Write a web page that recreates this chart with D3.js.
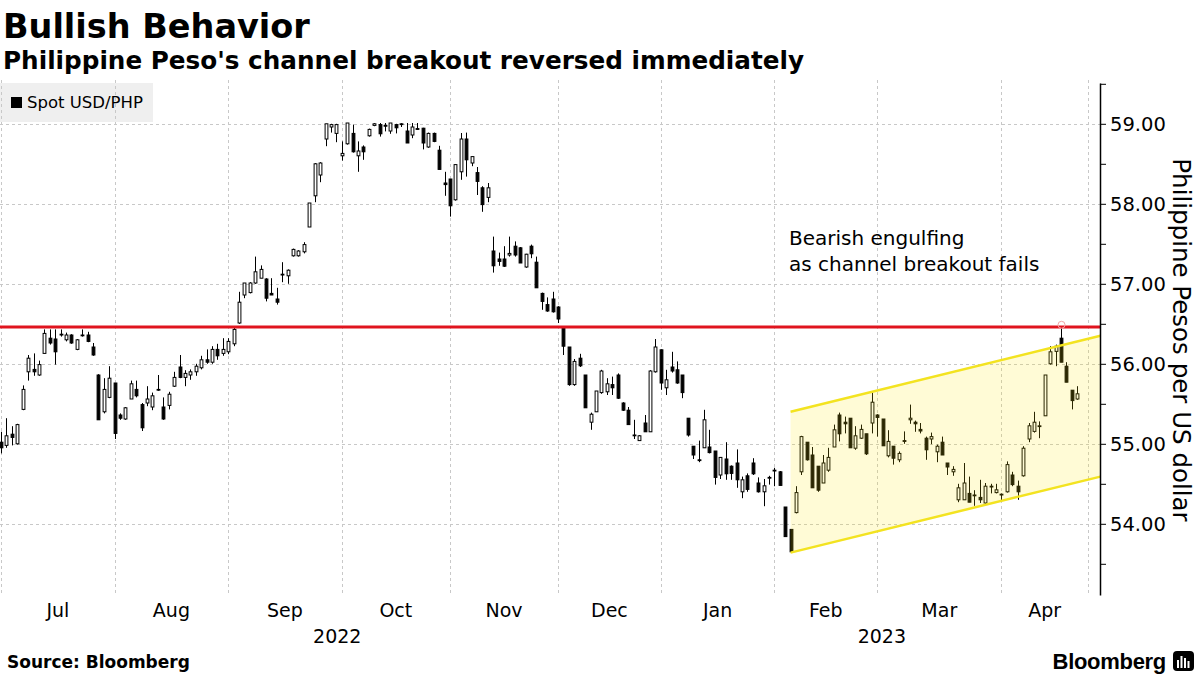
<!DOCTYPE html>
<html>
<head>
<meta charset="utf-8">
<title>Bullish Behavior</title>
<script src="https://cdnjs.cloudflare.com/ajax/libs/d3/7.8.5/d3.min.js"></script>
<style>
  body { margin: 0; background: #fff; }
  svg { font-family: "DejaVu Sans", sans-serif; }
  svg text { fill: #000; }
</style>
</head>
<body>
<div id="chart"></div>

<script>
// trading sessions per month, as counted on the chart
var months = ["Jul", "Aug", "Sep", "Oct", "Nov", "Dec", "Jan", "Feb", "Mar", "Apr"];
var monthCounts = [21, 21, 21, 20, 20, 19, 21, 19, 23, 15];
var years = ["2022", "2023"];
var yearFirstMonth = [0, 6];

var yTicks = [54, 55, 56, 57, 58, 59];
var yMinor = [53.5, 54.5, 55.5, 56.5, 57.5, 58.5, 59.5];

// spot USD/PHP daily candles: [open, high, low, close]
var ohlc = [
  // Jul 2022
  [55.02,55.15,54.88,54.95],[54.98,55.32,54.95,55.10],[55.12,55.22,54.98,55.08],[55.00,55.25,54.99,55.24],
  [55.43,55.73,55.42,55.68],[55.90,56.11,55.79,56.07],[55.93,56.13,55.85,55.90],[55.86,56.04,55.85,55.99],
  [56.13,56.43,56.13,56.38],[56.32,56.43,56.24,56.26],[56.31,56.43,55.99,56.15],[56.37,56.43,56.34,56.36],
  [56.30,56.39,56.28,56.36],[56.36,56.37,56.25,56.26],[56.18,56.31,56.17,56.30],[56.35,56.43,56.34,56.36],
  [56.36,56.40,56.27,56.28],[56.21,56.26,56.10,56.11],[55.86,55.87,55.30,55.30],[55.40,55.82,55.38,55.68],
  [55.58,55.97,55.57,55.82],
  // Aug
  [55.76,55.76,55.06,55.13],[55.36,55.38,55.30,55.32],[55.31,55.46,55.30,55.45],[55.56,55.79,55.56,55.75],
  [55.68,55.79,55.58,55.60],[55.49,55.51,55.16,55.20],[55.51,55.72,55.47,55.56],[55.46,55.64,55.42,55.60],
  [55.67,55.86,55.66,55.68],[55.46,55.58,55.30,55.31],[55.48,55.65,55.43,55.62],[55.72,55.90,55.71,55.83],
  [55.96,56.11,55.82,55.83],[55.83,55.92,55.72,55.88],[55.86,55.93,55.80,55.90],[55.90,56.00,55.85,55.97],
  [55.95,56.10,55.93,56.05],[56.05,56.18,56.00,56.02],[56.02,56.22,56.00,56.18],[56.18,56.25,56.05,56.10],
  [56.13,56.32,56.10,56.18],
  // Sep
  [56.15,56.32,56.12,56.28],[56.25,56.45,56.22,56.43],[56.51,56.90,56.50,56.77],[56.86,57.01,56.82,57.01],
  [56.89,57.02,56.88,57.01],[57.01,57.34,57.00,57.15],[57.07,57.23,57.07,57.18],[57.06,57.07,56.78,56.82],
  [56.88,57.07,56.86,56.86],[56.81,56.95,56.74,56.77],[57.12,57.27,57.02,57.11],[57.10,57.18,57.00,57.17],
  [57.35,57.44,57.34,57.43],[57.35,57.42,57.34,57.41],[57.40,57.52,57.38,57.49],[57.71,58.01,57.71,58.01],
  [58.10,58.51,58.02,58.50],[58.36,58.52,58.27,58.51],[58.81,59.00,58.72,59.00],[58.96,59.00,58.89,58.99],
  [58.88,59.00,58.77,58.99],
  // Oct
  [58.60,58.78,58.54,58.63],[58.75,59.01,58.74,59.01],[58.88,58.99,58.64,58.65],[58.60,58.78,58.40,58.66],
  [58.71,58.73,58.55,58.65],[58.85,58.94,58.84,58.93],[58.98,59.01,58.97,59.00],[58.99,59.01,58.84,58.875],
  [58.98,59.01,58.905,58.97],[58.91,59.01,58.875,59.01],[58.99,59.00,58.88,58.95],[58.99,59.01,58.96,59.00],
  [58.91,59.01,58.76,58.76],[58.86,59.01,58.82,58.96],[58.94,59.01,58.93,58.93],[58.945,58.95,58.68,58.76],
  [58.71,58.89,58.70,58.88],[58.88,58.89,58.77,58.78],[58.67,58.725,58.43,58.43],[58.26,58.40,58.10,58.24],
  // Nov
  [58.31,58.31,57.84,57.975],[58.05,58.49,58.04,58.49],[58.40,58.885,58.30,58.81],[58.81,58.89,58.34,58.55],
  [58.51,58.59,58.47,58.59],[58.39,58.46,58.11,58.28],[58.20,58.22,57.90,57.99],[58.08,58.26,58.02,58.20],
  [57.41,57.59,57.14,57.225],[57.31,57.39,57.225,57.28],[57.31,57.47,57.21,57.22],[57.36,57.59,57.34,57.38],
  [57.47,57.53,57.34,57.36],[57.45,57.46,57.26,57.26],[57.21,57.375,57.20,57.37],[57.47,57.49,57.32,57.375],
  [57.27,57.34,56.95,56.95],[56.88,56.89,56.675,56.78],[56.74,56.83,56.65,56.66],[56.81,56.90,56.64,56.65],
  // Dec
  [56.71,56.72,56.51,56.56],[56.45,56.46,56.11,56.22],[56.21,56.21,55.725,55.74],[55.74,56.06,55.725,56.03],
  [56.07,56.125,55.96,55.975],[55.86,55.86,55.45,55.45],[55.27,55.39,55.175,55.37],[55.40,55.66,55.40,55.66],
  [55.64,55.925,55.625,55.91],[55.65,55.82,55.61,55.75],[55.74,55.84,55.61,55.70],[55.86,55.88,55.56,55.57],
  [55.51,55.52,55.41,55.42],[55.42,55.46,55.24,55.24],[55.11,55.30,55.06,55.105],[55.04,55.11,55.04,55.10],
  [55.26,55.36,55.15,55.15],[55.15,55.92,55.15,55.91],[55.90,56.31,55.89,56.21],
  // Jan 2023
  [56.175,56.18,55.675,55.76],[55.70,55.925,55.61,55.80],[55.96,56.15,55.89,55.91],[55.925,56.03,55.75,55.76],
  [55.86,55.86,55.57,55.64],[55.32,55.32,55.09,55.11],[54.97,54.97,54.81,54.86],[54.80,55.04,54.77,54.79],
  [54.95,55.425,54.95,55.30],[54.96,55.175,54.88,54.89],[54.91,54.91,54.49,54.58],[54.61,54.83,54.56,54.83],
  [54.81,55.02,54.55,54.625],[54.72,54.73,54.55,54.63],[54.76,54.93,54.45,54.55],[54.40,54.59,54.32,54.55],
  [54.60,54.63,54.40,54.43],[54.76,54.82,54.61,54.625],[54.51,54.58,54.39,54.40],[54.40,54.56,54.22,54.475],
  [54.57,54.60,54.49,54.58],
  // Feb
  [54.66,54.70,54.47,54.67],[54.65,54.66,54.48,54.48],[54.21,54.21,53.84,53.84],[53.93,53.93,53.64,53.65],
  [54.14,54.47,54.13,54.39],[54.65,55.10,54.61,55.09],[55.02,55.02,54.79,54.80],[54.86,54.96,54.45,54.45],
  [54.72,54.72,54.40,54.42],[54.51,54.86,54.51,54.76],[54.67,54.95,54.65,54.83],[54.96,55.24,54.96,55.175],
  [55.36,55.39,55.03,55.125],[55.27,55.34,55.13,55.25],[55.32,55.32,54.95,54.95],[54.945,55.22,54.925,55.10],
  [55.07,55.24,55.06,55.18],[55.125,55.125,54.86,54.875],[55.26,55.64,55.13,55.52],
  // Mar
  [55.36,55.37,55.09,55.33],[55.31,55.31,54.975,54.975],[54.85,55.17,54.83,55.03],[54.97,54.97,54.74,54.82],
  [54.80,54.905,54.77,54.88],[55.04,55.155,55.00,55.03],[55.30,55.49,55.25,55.32],[55.27,55.29,55.15,55.25],
  [55.18,55.26,55.13,55.16],[55.07,55.09,54.80,54.925],[55.06,55.14,54.995,55.09],[54.90,54.99,54.77,54.97],
  [55.02,55.09,54.86,54.86],[54.76,54.76,54.61,54.71],[54.65,54.72,54.60,54.68],[54.30,54.50,54.27,54.45],
  [54.30,54.76,54.30,54.51],[54.38,54.59,54.27,54.27],[54.36,54.42,54.225,54.35],[54.33,54.55,54.26,54.30],
  [54.26,54.51,54.25,54.47],[54.465,54.50,54.38,54.47],[54.39,54.50,54.38,54.425],
  // Apr
  [54.37,54.38,54.29,54.37],[54.40,54.78,54.39,54.74],[54.61,54.65,54.47,54.49],[54.47,54.54,54.30,54.40],
  [54.60,54.97,54.59,54.945],[55.06,55.26,55.02,55.225],[55.155,55.40,55.14,55.27],[55.22,55.28,55.07,55.225],
  [55.35,55.86,55.35,55.86],[56.00,56.22,55.99,56.15],[56.155,56.24,55.97,56.22],[56.32,56.45,56.02,56.02],
  [55.97,56.02,55.77,55.77],[55.67,55.67,55.43,55.54],[55.56,55.72,55.55,55.625]
];

// horizontal resistance and rising channel (session index, price)
var resistance = 56.46;
var channelIdx = [146, 203.3];
var channelUpper = [55.40, 56.35];
var channelLower = [53.64, 54.59];
var engulfIdx = 196;

var annotation = ["Bearish engulfing", "as channel breakout fails"];

var width = 1200, height = 675;

var svg = d3.select("#chart").append("svg")
  .attr("width", width)
  .attr("height", height);

var starts = [0];
monthCounts.forEach(function(c, i) { starts.push(starts[i] + c); });

var x = d3.scaleLinear().domain([-0.2, 201]).range([0, 1088]);
var y = d3.scaleLinear().domain([53.11, 59.51]).range([595, 83]);
var axisX = 1100;

// legend
svg.append("rect").attr("x", 0).attr("y", 83).attr("width", 153).attr("height", 39).style("fill", "#efefef");
svg.append("rect").attr("x", 11).attr("y", 97).attr("width", 11).attr("height", 11).style("fill", "#000");
svg.append("text").attr("x", 27).attr("y", 108).style("font-size", "16.5px").text("Spot USD/PHP");

// grid
svg.selectAll(".hgrid")
  .data(yTicks)
  .enter().append("line")
  .attr("x1", 0).attr("x2", axisX)
  .attr("y1", function(d) { return Math.round(y(d)) + 0.5; })
  .attr("y2", function(d) { return Math.round(y(d)) + 0.5; })
  .style("stroke", "#c8c8c8").style("stroke-dasharray", "3,3");

var vgrid = starts.slice(0, months.length).concat([x.domain()[1]]);
svg.selectAll(".vgrid")
  .data(vgrid)
  .enter().append("line")
  .attr("x1", function(d) { return Math.round(x(d)) + 0.5; })
  .attr("x2", function(d) { return Math.round(x(d)) + 0.5; })
  .attr("y1", 80).attr("y2", 595)
  .style("stroke", "#c8c8c8").style("stroke-dasharray", "3,3");

// candles
var candles = svg.selectAll(".candle")
  .data(ohlc)
  .enter().append("g");

candles.append("line")
  .attr("x1", function(d, i) { return Math.round(x(i)) + 0.5; })
  .attr("x2", function(d, i) { return Math.round(x(i)) + 0.5; })
  .attr("y1", function(d) { return y(d[1]); })
  .attr("y2", function(d) { return y(d[2]); })
  .style("stroke", "#000").style("stroke-width", 1);

candles.append("rect")
  .attr("x", function(d, i) { return Math.round(x(i)) + 0.5 - 1.4; })
  .attr("width", 2.8)
  .attr("y", function(d) { return y(Math.max(d[0], d[3])); })
  .attr("height", function(d) { return Math.max(0.8, Math.abs(y(d[0]) - y(d[3]))); })
  .style("fill", function(d) { return d[3] >= d[0] ? "#fff" : "#000"; })
  .style("stroke", "#000").style("stroke-width", 1);

// channel
var chan = [
  [x(channelIdx[0]), y(channelUpper[0])],
  [x(channelIdx[1]), y(channelUpper[1])],
  [x(channelIdx[1]), y(channelLower[1])],
  [x(channelIdx[0]), y(channelLower[0])]
];
svg.append("polygon")
  .attr("points", chan.map(function(p) { return p.join(","); }).join(" "))
  .style("fill", "#ffe90e").style("fill-opacity", 0.17);

[channelUpper, channelLower].forEach(function(v) {
  svg.append("line")
    .attr("x1", x(channelIdx[0])).attr("y1", y(v[0]))
    .attr("x2", x(channelIdx[1])).attr("y2", y(v[1]))
    .style("stroke", "#f3e320").style("stroke-width", 2.5);
});

// resistance
svg.append("line")
  .attr("x1", 0).attr("x2", axisX)
  .attr("y1", y(resistance)).attr("y2", y(resistance))
  .style("stroke", "#e0141e").style("stroke-width", 3);

svg.append("circle")
  .attr("cx", Math.round(x(engulfIdx)) + 0.5)
  .attr("cy", y(ohlc[engulfIdx][1]) - 3)
  .attr("r", 3.5)
  .style("fill", "none").style("stroke", "#f2a5a5").style("stroke-width", 1);

// annotation
svg.append("text")
  .attr("x", 789).attr("y", 245)
  .style("font-size", "20px")
  .selectAll("tspan")
  .data(annotation)
  .enter().append("tspan")
  .attr("x", 789)
  .attr("dy", function(d, i) { return i ? 26 : 0; })
  .text(function(d) { return d; });

// y axis
var yAxis = svg.append("g")
  .attr("transform", "translate(" + axisX + ",0)")
  .call(d3.axisRight(y).tickValues(yTicks).tickFormat(d3.format(".2f")).tickSize(6).tickSizeOuter(0).tickPadding(4));
yAxis.selectAll("text").style("font-size", "19.5px").style("font-family", "DejaVu Sans");
yAxis.select(".domain").style("stroke-width", 1.5);

svg.append("g")
  .attr("transform", "translate(" + axisX + ",0)")
  .call(d3.axisRight(y).tickValues(yMinor).tickFormat("").tickSize(6).tickSizeOuter(0))
  .select(".domain").remove();

svg.append("text")
  .attr("transform", "translate(1173,340) rotate(90)")
  .style("text-anchor", "middle")
  .style("font-size", "24.5px")
  .text("Philippine Pesos per US dollar");

// x labels
var monthMid = months.map(function(m, i) {
  var a = x(starts[i]);
  var b = i < months.length - 1 ? x(starts[i + 1]) : x.range()[1];
  return (a + b) / 2;
});

svg.selectAll(".month")
  .data(months)
  .enter().append("text")
  .attr("x", function(d, i) { return monthMid[i]; })
  .attr("y", 617)
  .style("text-anchor", "middle")
  .style("font-size", "19px")
  .text(function(d) { return d; });

svg.selectAll(".year")
  .data(years)
  .enter().append("text")
  .attr("x", function(d, i) {
    var last = i < years.length - 1 ? yearFirstMonth[i + 1] : months.length;
    return d3.mean(monthMid.slice(yearFirstMonth[i], last));
  })
  .attr("y", 643)
  .style("text-anchor", "middle")
  .style("font-size", "19px")
  .text(function(d) { return d; });

// titles
svg.append("text").attr("x", 3).attr("y", 38)
  .style("font-size", "33.5px").style("font-weight", "bold")
  .text("Bullish Behavior");
svg.append("text").attr("x", 3).attr("y", 69)
  .style("font-size", "24.7px").style("font-weight", "bold")
  .text("Philippine Peso's channel breakout reversed immediately");

// footer
svg.append("text").attr("x", 7).attr("y", 668)
  .style("font-size", "17px").style("font-weight", "bold")
  .text("Source: Bloomberg");

svg.append("text").attr("x", 1166).attr("y", 669)
  .style("text-anchor", "end")
  .style("font-family", "Liberation Sans, Arial, sans-serif")
  .style("font-size", "22px").style("font-weight", "bold")
  .style("letter-spacing", "-0.3px")
  .text("Bloomberg");

var logo = svg.append("g").attr("transform", "translate(1173,651)");
logo.append("rect").attr("width", 21).attr("height", 20).attr("rx", 4).style("fill", "#000");
[[5, 9, 2, 8], [8.5, 5, 2, 12], [12, 7, 2, 10], [15.5, 10, 2, 7]].forEach(function(b) {
  logo.append("rect").attr("x", b[0] - 1).attr("y", b[1]).attr("width", b[2]).attr("height", b[3]).style("fill", "#fff");
});
</script>
</body>
</html>
